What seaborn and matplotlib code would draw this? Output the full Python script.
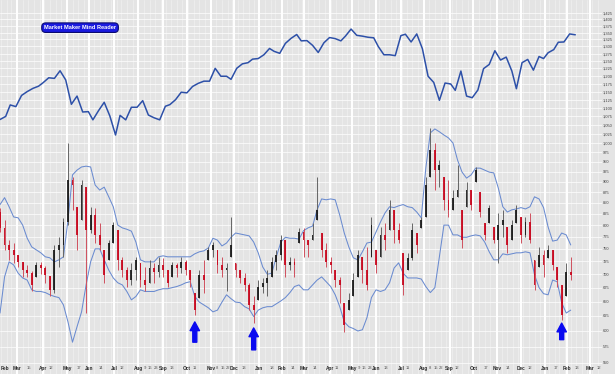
import numpy as np
import pandas as pd
import matplotlib
matplotlib.use("Agg")
import matplotlib.pyplot as plt
import matplotlib.transforms as mtransforms
from matplotlib.ticker import FixedLocator, NullLocator, FixedFormatter
import seaborn as sns

# ---------------- data ----------------
HOLIDAYS = ["2010-01-01", "2010-01-18", "2010-02-15", "2010-04-02", "2010-05-31",
            "2010-07-05", "2010-09-06", "2010-11-25", "2010-12-24",
            "2011-01-17", "2011-02-21", "2011-04-22", "2011-05-30", "2011-07-04",
            "2011-09-05", "2011-11-24", "2011-12-26",
            "2012-01-02", "2012-01-16", "2012-02-20", "2012-04-06"]

# upper series: weekly closes (Fridays 2010-02-05 .. 2012-02-10)
sp_week_end = pd.date_range("2010-02-05", "2012-02-10", freq="W-FRI")
sp_close = [1066, 1075, 1109, 1104, 1138, 1150, 1160, 1167, 1178, 1194, 1192, 1217, 1187,
            1111, 1136, 1088, 1089, 1065, 1092, 1117, 1076, 1022, 1078, 1065, 1102, 1102,
            1122, 1079, 1071, 1065, 1105, 1110, 1125, 1148, 1146, 1166, 1176, 1183, 1183,
            1225, 1199, 1199, 1189, 1225, 1240, 1244, 1256, 1258,
            1271, 1293, 1283, 1276, 1311, 1329, 1343, 1320, 1321, 1304, 1279, 1313,
            1332, 1328, 1320, 1337, 1363, 1340, 1337, 1333, 1331, 1300, 1271, 1271, 1268,
            1339, 1344, 1316, 1345, 1292, 1199, 1179, 1123, 1177, 1174, 1154, 1216, 1136,
            1131, 1155, 1224, 1238, 1285, 1253, 1263, 1216, 1159, 1244, 1255, 1219, 1265, 1258,
            1278, 1289, 1315, 1316, 1345, 1342]

# lower series: candles every 4th session from 2010-02-05
ind_high = [839, 811, 768, 762, 738, 724, 718, 706, 724, 724, 716, 697, 758, 774, 816,
            1000, 912, 841, 904, 887, 841, 839, 805, 748, 768, 807, 789, 734, 714, 722,
            734, 722, 714, 728, 722,
            734, 732, 708, 724, 722, 734, 728, 708, 666, 708, 728, 754, 764, 748, 734,
            722, 818, 722, 708, 702, 684, 659, 689, 693, 708, 734, 748, 779, 768, 734,
            732, 794, 794,
            768, 805, 912, 783, 762, 734, 708, 695, 648, 666, 702, 748, 734, 754, 818,
            748, 796, 805, 857, 834, 805, 742, 742, 805, 783, 818, 912, 1042, 1000, 955,
            912, 904, 880,
            942, 834, 899, 880, 937, 875, 805, 846, 796, 827, 834, 796, 811, 846, 818,
            818, 827, 728, 754, 748, 758, 748, 714, 680, 722, 734]
ind_low = [785, 748, 728, 722, 714, 695, 695, 668, 695, 700, 684, 659, 666, 714, 734,
           800, 834, 748, 811, 630, 783, 762, 748, 684, 728, 762, 708, 695, 677, 680,
           689, 677, 668, 684, 684,
           695, 695, 677, 695, 695, 702, 699, 677, 627, 657, 666, 728, 734, 702, 695,
           668, 734, 695, 684, 668, 635, 613, 653, 666, 659, 695, 708, 728, 695, 708,
           695, 762, 734,
           734, 768, 811, 734, 714, 702, 677, 648, 599, 635, 659, 695, 684, 671, 734,
           702, 734, 748, 789, 762, 762, 662, 708, 728, 742, 794, 818, 912, 880, 887,
           834, 818, 834,
           864, 752, 841, 834, 899, 818, 768, 805, 762, 722, 774, 742, 768, 805, 762,
           774, 762, 671, 714, 695, 732, 708, 677, 618, 659, 689]
ind_close = [794, 758, 748, 738, 724, 708, 702, 680, 718, 712, 699, 671, 748, 758, 807,
             904, 892, 779, 892, 789, 822, 779, 758, 699, 762, 800, 728, 708, 689, 708,
             728, 689, 680, 712, 704,
             718, 708, 684, 718, 712, 724, 708, 689, 635, 699, 689, 748, 758, 718, 708,
             708, 758, 708, 693, 680, 644, 635, 677, 684, 693, 724, 738, 768, 718, 724,
             718, 785, 768,
             758, 779, 834, 748, 724, 718, 689, 680, 610, 653, 689, 738, 708, 680, 800,
             718, 779, 768, 834, 789, 768, 680, 732, 789, 758, 811, 892, 981, 929, 942,
             857, 834, 862,
             880, 768, 880, 846, 929, 829, 779, 839, 768, 800, 811, 758, 800, 834, 779,
             807, 768, 680, 738, 718, 748, 718, 689, 627, 704, 699]
ind_first_open = 830
band_upper = [846, 862, 841, 818, 816, 800, 772, 754, 748, 742, 734, 732, 724, 728, 734,
              811, 917, 929, 937, 939, 937, 892, 880, 887, 864, 841, 800, 794, 791, 787,
              764, 728, 724, 724, 724,
              734, 736, 734, 734, 734, 734, 734, 734, 740, 744, 746, 752, 772, 768, 756,
              762, 774, 783, 781, 779, 777, 764, 742, 714, 700, 702, 734, 764, 774, 772,
              772, 770, 788,
              794, 798, 834, 859, 857, 859, 857, 822, 783, 754, 732, 728, 744, 762, 764,
              785, 807, 827, 841, 839, 843, 846, 841, 839, 829, 816, 934, 1028, 1039, 1031,
              1022, 1014, 1000,
              955, 924, 909, 917, 934, 934, 929, 924, 922, 885, 841, 829, 834, 836, 839,
              836, 841, 864, 859, 839, 796, 766, 768, 783, 779, 758]
band_lower = [630, 695, 724, 718, 702, 693, 689, 671, 668, 668, 666, 662, 659, 657, 644,
              615, 582, 607, 632, 680, 724, 750, 750, 728, 708, 693, 684, 680, 668, 653,
              659, 671, 668, 668, 668,
              671, 673, 673, 675, 677, 680, 684, 686, 659, 649, 644, 639, 632, 635, 649,
              662, 655, 649, 648, 641, 637, 624, 635, 639, 641, 641, 646, 651, 657, 666,
              677, 680, 671,
              671, 680, 689, 695, 686, 677, 662, 641, 615, 607, 604, 600, 602, 622, 657,
              671, 668, 671, 684, 712, 722, 702, 693, 693, 693, 691, 677, 666, 675, 734,
              800, 800, 779,
              779, 774, 774, 777, 779, 777, 764, 744, 728, 728, 740, 738, 740, 742, 742,
              744, 742, 699, 675, 664, 662, 689, 686, 648, 630, 635]

arrow_dates = ["2010-10-12", "2010-12-27", "2012-01-25"]
arrow_tip = [615, 605, 613]
arrow_tail = [582, 570, 586]

month_labels = ["Feb", "Mar", "Apr", "May", "Jun", "Jul", "Aug", "Sep", "Oct", "Nov", "Dec",
                "Jan", "Feb", "Mar", "Apr", "May", "Jun", "Jul", "Aug", "Sep", "Oct", "Nov",
                "Dec", "Jan", "Feb", "Mar"]
day_tick_dates = ["2010-03-15", "2010-04-12", "2010-05-17", "2010-06-14", "2010-07-12",
                  "2010-08-09", "2010-08-16", "2010-08-23", "2010-09-13", "2010-10-11",
                  "2010-11-08", "2010-11-15", "2010-11-22", "2010-12-13", "2011-01-18",
                  "2011-02-14", "2011-03-14", "2011-04-11", "2011-05-09", "2011-05-16",
                  "2011-05-23", "2011-06-13", "2011-07-11", "2011-08-08", "2011-08-15",
                  "2011-08-22", "2011-09-12", "2011-10-17", "2011-11-14", "2011-12-12",
                  "2012-01-17", "2012-02-13", "2012-03-12"]
y_levels = list(range(550, 1426, 25))
y_labels = [f"{v:,}" for v in y_levels]
title_box = "Market Maker Mind Reader"

# ---------------- style ----------------
BG = "#e4e4e4"
sns.set_theme(style="dark", rc={"axes.facecolor": BG, "figure.facecolor": BG})
plt.rcParams["font.family"] = ["Liberation Sans", "DejaVu Sans"]

days = pd.bdate_range("2010-02-01", "2012-05-31", freq="C", holidays=HOLIDAYS)


def tidx(d):
    return int(days.searchsorted(pd.Timestamp(d), side="right") - 1)


fig = plt.figure(figsize=(6.15, 3.74), dpi=100)
ax = fig.add_axes([0, 0, 602 / 615, 1])
ax.set_yscale("log")
ax.set_ylim(533.8, 1475)
XMIN, XMAX = 3.97, 535.6
ax.set_xlim(XMIN, XMAX)
for s in ax.spines.values():
    s.set_visible(False)
ax.grid(False)

# grid lines
for v in y_levels:
    ax.axhline(v, color="white", lw=0.55, alpha=0.9, zorder=0)
week_starts = [i for i in range(1, len(days)) if days[i].weekday() < days[i - 1].weekday()]
for i in week_starts:
    ax.axvline(i, color="white", lw=0.45, alpha=0.5, zorder=0)
month_starts = [0] + [i for i in range(1, len(days)) if days[i].month != days[i - 1].month]
month_starts = month_starts[:len(month_labels)]
for i in month_starts:
    ax.axvline(i, color="white", lw=1.4, zorder=0)

# bands
cand_x = np.array([tidx(d) for d in days[4::4][:len(ind_close)]])
band_df = pd.DataFrame({"t": cand_x, "up": band_upper, "lo": band_lower})
sns.lineplot(data=band_df, x="t", y="up", ax=ax, color="#6a8bd0", lw=0.75, zorder=2)
sns.lineplot(data=band_df, x="t", y="lo", ax=ax, color="#6a8bd0", lw=0.75, zorder=2)

# candles
c = np.array(ind_close, float)
h = np.array(ind_high, float)
l = np.array(ind_low, float)
o = np.clip(np.r_[ind_first_open, c[:-1]], l, h)
down = c < o
cols = np.where(down, "#c8061c", "#1a1a1a")
ax.vlines(cand_x, l, h, colors=np.where(down, "#d0505e", "#666666"), lw=0.7, zorder=3)
body_lo = np.minimum(o, c)
body_h = np.maximum(np.abs(c - o), 0.005 * c)
ax.bar(cand_x, body_h, bottom=body_lo, width=1.6, color=cols, alpha=0.9, zorder=4,
       linewidth=0)

# top series
sp_df = pd.DataFrame({"t": [tidx(d) for d in sp_week_end], "v": sp_close})
sns.lineplot(data=sp_df, x="t", y="v", ax=ax, color="#2d50a8", lw=1.1, zorder=5)

# arrows
for d, tip, tail in zip(arrow_dates, arrow_tip, arrow_tail):
    x = tidx(d)
    ax.annotate("", xy=(x, tip), xytext=(x, tail),
                arrowprops=dict(arrowstyle="simple,head_length=0.7,head_width=0.75,tail_width=0.32",
                                color="#0a0af0", mutation_scale=9, shrinkA=0, shrinkB=0),
                zorder=6)

# title box
ax.text(0.133, 0.926, title_box, transform=ax.transAxes, ha="center", va="center",
        color="white", fontsize=4.1, fontweight="bold", zorder=7,
        bbox=dict(boxstyle="round,pad=0.4,rounding_size=0.7", fc="#1a1ae0",
                  ec="#0b0b70", lw=0.8))

# y axis on the right
ax.yaxis.set_major_locator(FixedLocator(y_levels))
ax.yaxis.set_minor_locator(NullLocator())
ax.yaxis.set_major_formatter(FixedFormatter(y_labels))
ax.yaxis.tick_right()
ax.tick_params(axis="y", length=0, pad=0.8, labelsize=2.9, labelcolor="#444444")
ax.set_xticks([])
ax.set_xlabel("")
ax.set_ylabel("")

# date labels inside bottom
trans = mtransforms.blended_transform_factory(ax.transData, ax.transAxes)
for j, (i, lab) in enumerate(zip(month_starts, month_labels)):
    if i < XMIN + 3:
        ax.text(XMIN + 0.8, 0.016, lab, transform=trans, ha="left", va="center",
                fontsize=3.4, fontweight="bold", color="#2a2a2a", zorder=8)
    else:
        ax.text(i, 0.016, lab, transform=trans, ha="center", va="center", fontsize=3.4,
                fontweight="bold", color="#2a2a2a", zorder=8)
for d in day_tick_dates:
    ax.text(tidx(d) + 0.8, 0.016, str(pd.Timestamp(d).day), transform=trans, ha="center",
            va="center", fontsize=3.0, color="#555555", zorder=8)

fig.savefig("out.png", dpi=100, facecolor=fig.get_facecolor())
